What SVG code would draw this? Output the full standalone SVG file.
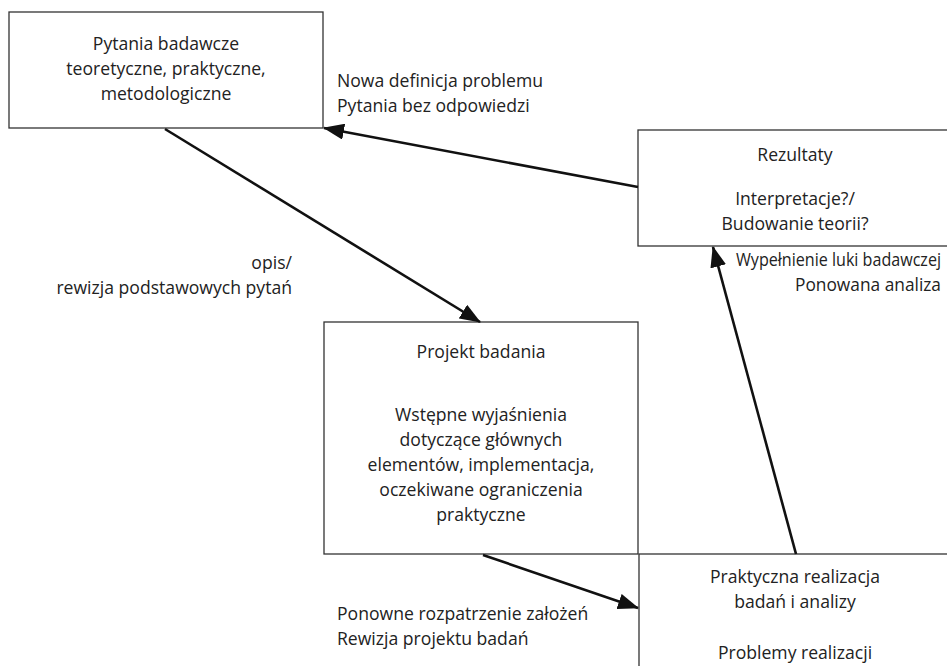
<svg xmlns="http://www.w3.org/2000/svg" width="947" height="666" viewBox="0 0 947 666">
  <style>
    .box { fill: #ffffff; stroke: #333333; stroke-width: 1.3; }
    .t { font-family: "Open Sans", "Liberation Sans", Arial, sans-serif; font-size: 17.6px; fill: #222222; }
    .c { text-anchor: middle; }
    .r { text-anchor: end; }
    .conn { stroke: #111111; stroke-width: 2.6; fill: none; marker-end: url(#head); }
  </style>
  <defs>
    <marker id="head" markerUnits="userSpaceOnUse" markerWidth="22" markerHeight="16" refX="20" refY="8" orient="auto">
      <path d="M0,0 L21,8 L0,16 Z" fill="#111111"/>
    </marker>
  </defs>
  <rect width="947" height="666" fill="#ffffff"/>

  <g id="pytania">
    <rect class="box" x="9" y="12" width="314" height="116"/>
    <text class="t c" x="166" y="50">Pytania badawcze</text>
    <text class="t c" x="166" y="75">teoretyczne, praktyczne,</text>
    <text class="t c" x="166" y="100">metodologiczne</text>
  </g>

  <g id="rezultaty">
    <rect class="box" x="638" y="130" width="320" height="116"/>
    <text class="t c" x="795" y="161">Rezultaty</text>
    <text class="t c" x="795" y="205">Interpretacje?/</text>
    <text class="t c" x="795" y="230">Budowanie teorii?</text>
  </g>

  <g id="projekt">
    <rect class="box" x="324" y="322" width="314" height="232"/>
    <text class="t c" x="481" y="358">Projekt badania</text>
    <text class="t c" x="481" y="421">Wstępne wyjaśnienia</text>
    <text class="t c" x="481" y="446">dotyczące głównych</text>
    <text class="t c" x="481" y="471">elementów, implementacja,</text>
    <text class="t c" x="481" y="496">oczekiwane ograniczenia</text>
    <text class="t c" x="481" y="521">praktyczne</text>
  </g>

  <g id="realizacja">
    <rect class="box" x="639" y="554" width="320" height="130"/>
    <text class="t c" x="795" y="583">Praktyczna realizacja</text>
    <text class="t c" x="795" y="608">badań i analizy</text>
    <text class="t c" x="795" y="659">Problemy realizacji</text>
  </g>

  <g id="connectors">
    <line class="conn" x1="638" y1="187" x2="324" y2="128"/>
    <line class="conn" x1="165" y1="129" x2="480" y2="322"/>
    <line class="conn" x1="483" y1="555" x2="638" y2="608"/>
    <line class="conn" x1="796" y1="554" x2="713" y2="247"/>
  </g>

  <g id="labels">
    <text class="t" x="337" y="87">Nowa definicja problemu</text>
    <text class="t" x="337" y="112">Pytania bez odpowiedzi</text>
    <text class="t r" x="292" y="269">opis/</text>
    <text class="t r" x="292" y="294">rewizja podstawowych pytań</text>
    <text class="t" x="736" y="266" textLength="205" lengthAdjust="spacingAndGlyphs">Wypełnienie luki badawczej</text>
    <text class="t" x="795" y="291" textLength="146" lengthAdjust="spacingAndGlyphs">Ponowana analiza</text>
    <text class="t" x="337" y="620">Ponowne rozpatrzenie założeń</text>
    <text class="t" x="337" y="645">Rewizja projektu badań</text>
  </g>
</svg>
